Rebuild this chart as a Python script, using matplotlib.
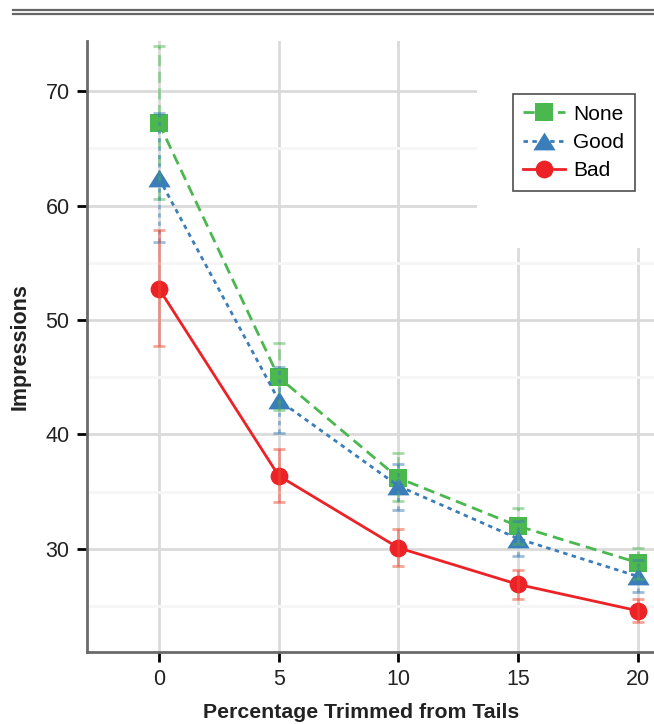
import matplotlib
matplotlib.use("Agg")
import matplotlib.pyplot as plt
from matplotlib.lines import Line2D
from matplotlib.patches import Rectangle
import numpy as np

plt.rcParams['font.family'] = ['Liberation Sans', 'DejaVu Sans']

x = [0, 5, 10, 15, 20]
none_mean = [67.2, 45.0, 36.2, 32.0, 28.8]
none_lo = [60.6, 42.1, 34.2, 30.4, 27.4]
none_hi = [73.9, 48.0, 38.4, 33.6, 30.1]
good_mean = [62.4, 43.0, 35.5, 30.9, 27.6]
good_lo = [56.8, 40.1, 33.4, 29.4, 26.2]
good_hi = [68.1, 45.9, 37.4, 32.4, 29.0]
bad_mean = [52.75, 36.4, 30.1, 26.9, 24.6]
bad_lo = [47.7, 34.1, 28.5, 25.6, 23.6]
bad_hi = [57.9, 38.75, 31.75, 28.2, 25.6]

tri = [(-1, -0.8), (1, -0.8), (0, 0.8), (-1, -0.8)]

series = [
    ("None", none_mean, none_lo, none_hi, '#4BB84F', 's', 12.8, (0, (4, 2.2)), (0, (4, 2)), '#4BB84F'),
    ("Good", good_mean, good_lo, good_hi, '#3A7DB8', tri, 16, (0, (1.6, 1.6)), (0, (1.5, 1.5)), '#3A7DB8'),
    ("Bad", bad_mean, bad_lo, bad_hi, '#EC2227', 'o', 12.8, '-', '-', '#EE4A33'),
]

W, H = 654, 724
fig = plt.figure(figsize=(W/100, H/100), dpi=100)
ax = fig.add_axes([87/W, (H-652)/H, 1 - 87/W, (652-41)/H])

ax.set_xlim(-3.0, 20.67)
ax.set_ylim(21.0, 74.37)
ax.set_xticks(x)
ax.set_yticks([30, 40, 50, 60, 70])
ax.set_yticks([25, 35, 45, 55, 65], minor=True)
ax.grid(True, which='major', color='#dadada', linewidth=2, zorder=0)
ax.grid(True, which='minor', axis='y', color='#f6f6f6', linewidth=2, zorder=0)
ax.tick_params(axis='y', which='minor', length=0)
ax.set_axisbelow(True)

# white area behind legend hiding the grid
ax.add_patch(Rectangle((0.688, 0.661), 0.4, 0.4, transform=ax.transAxes,
                       facecolor='white', edgecolor='none', zorder=1, clip_on=False))

for sp in ['top', 'right']:
    ax.spines[sp].set_visible(False)
for sp in ['left', 'bottom']:
    ax.spines[sp].set_color('#6a6a6a')
    ax.spines[sp].set_linewidth(2)
ax.tick_params(axis='both', which='major', direction='out', length=7.5, width=2,
               color='black', labelsize=15.5, labelcolor='#222222', pad=5)

handles = []
for name, m, lo, hi, c, mk, ms, ls, els, ec in series:
    m = np.array(m); lo = np.array(lo); hi = np.array(hi)
    ln, = ax.plot(x, m, color=c, linestyle=ls, linewidth=2.0, marker=mk,
                  markersize=ms, markeredgewidth=0, zorder=3, label=name)
    eb = ax.errorbar(x, m, yerr=[m - lo, hi - m], fmt='none', ecolor=ec,
                     elinewidth=2, capsize=4.5, capthick=2, alpha=0.5, zorder=4)
    eb[2][0].set_linestyle(els)
    handles.append(ln)

leg = ax.legend(handles=handles, loc='upper right', bbox_to_anchor=(0.966, 0.913),
                fontsize=15, frameon=True, fancybox=False, edgecolor='#222222',
                handlelength=2.0, handletextpad=0.4, borderpad=0.5, labelspacing=0.45,
                borderaxespad=0)
leg.get_frame().set_linewidth(1.2)
leg.set_zorder(5)

ax.set_xlabel("Percentage Trimmed from Tails", fontsize=15.3, fontweight='bold',
              color='#222222', labelpad=9)
ax.xaxis.label.set_x((361 - 87) / (W - 87))
ax.set_ylabel("Impressions", fontsize=15.5, fontweight='bold', color='#222222', labelpad=11)

fig.add_artist(Line2D([13/W, 1], [1 - 10/H, 1 - 10/H], color='#666666', linewidth=1.6))
fig.add_artist(Line2D([13/W, 1], [1 - 13.7/H, 1 - 13.7/H], color='#666666', linewidth=1.6))

fig.savefig("out.png", dpi=100)
